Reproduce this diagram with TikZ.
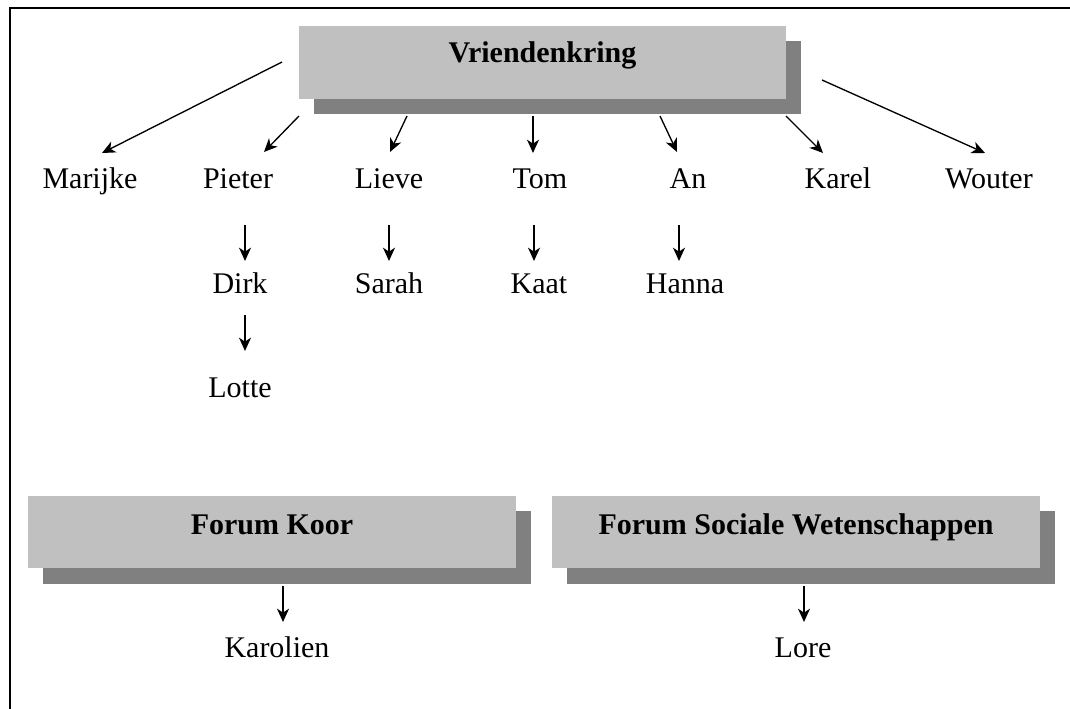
\documentclass[tikz,border=0pt]{standalone}
\usepackage{fontspec}
\setmainfont{Liberation Serif}
\usetikzlibrary{arrows.meta}
\definecolor{boxlight}{RGB}{192,192,192}
\definecolor{boxdark}{RGB}{128,128,128}
\tikzset{
  person/.style={inner sep=0pt, anchor=base, font=\fontsize{22.5pt}{27pt}\selectfont},
  boxtext/.style={inner sep=0pt, anchor=base, font=\fontsize{22.5pt}{27pt}\selectfont\bfseries},
  lightbox/.style={fill=boxlight, draw=none, inner sep=0pt, minimum width=365.6pt, minimum height=54.5pt},
  darkbox/.style={fill=boxdark, draw=none, inner sep=0pt, minimum width=365.6pt, minimum height=54.5pt},
  arr/.style={line width=1pt, -{Stealth[length=10pt,width=9pt,inset=3pt]}},
  frame/.style={line width=1.1pt}
}
\begin{document}
\begin{tikzpicture}[x=0.75pt,y=-0.75pt]
\useasboundingbox (0,0) rectangle (1070,709);
% frame
\coordinate (fa) at (1070,8);
\coordinate (fb) at (10,8);
\coordinate (fc) at (10,709);
\draw[frame] (fa) -- (fb) -- (fc);

% top box
\node[darkbox] (vkshadow) at (557.5,77.5) {};
\node[lightbox] (vk) at (542.5,62.5) {};
\node[boxtext] (vkt) at (542.5,63) {Vriendenkring};

% first row
\node[person] (marijke) at (90,189) {Marijke};
\node[person] (pieter) at (238,189) {Pieter};
\node[person] (lieve) at (389,189) {Lieve};
\node[person] (tom) at (540,189) {Tom};
\node[person] (an) at (688,189) {An};
\node[person] (karel) at (838,189) {Karel};
\node[person] (wouter) at (989,189) {Wouter};

\coordinate (sMarijke) at (282,62);  \coordinate (eMarijke) at (102,153);
\coordinate (sPieter) at (299,116);  \coordinate (ePieter) at (264,152);
\coordinate (sLieve) at (407,116);   \coordinate (eLieve) at (390,152);
\coordinate (sTom) at (533,116);     \coordinate (eTom) at (533,153);
\coordinate (sAn) at (660,116);      \coordinate (eAn) at (677,152);
\coordinate (sKarel) at (786,116);   \coordinate (eKarel) at (823,153);
\coordinate (sWouter) at (822,80);   \coordinate (eWouter) at (985,153);
\draw[arr] (sMarijke) -- (eMarijke);
\draw[arr] (sPieter) -- (ePieter);
\draw[arr] (sLieve) -- (eLieve);
\draw[arr] (sTom) -- (eTom);
\draw[arr] (sAn) -- (eAn);
\draw[arr] (sKarel) -- (eKarel);
\draw[arr] (sWouter) -- (eWouter);

% second row
\node[person] (dirk) at (240,293) {Dirk};
\node[person] (sarah) at (389,293) {Sarah};
\node[person] (kaat) at (539,293) {Kaat};
\node[person] (hanna) at (685,293) {Hanna};
\node[person] (lotte) at (240,397) {Lotte};

\coordinate (sDirk) at (245,225);  \coordinate (eDirk) at (245,261);
\coordinate (sSarah) at (389,225); \coordinate (eSarah) at (389,261);
\coordinate (sKaat) at (534,225);  \coordinate (eKaat) at (534,261);
\coordinate (sHanna) at (679,225); \coordinate (eHanna) at (679,261);
\coordinate (sLotte) at (245,315); \coordinate (eLotte) at (245,351);
\draw[arr] (sDirk) -- (eDirk);
\draw[arr] (sSarah) -- (eSarah);
\draw[arr] (sKaat) -- (eKaat);
\draw[arr] (sHanna) -- (eHanna);
\draw[arr] (sLotte) -- (eLotte);

% bottom boxes
\node[darkbox] (fkshadow) at (287,547.5) {};
\node[lightbox] (fk) at (272,532) {};
\node[boxtext] (fkt) at (272,534) {Forum Koor};
\node[darkbox] (fsshadow) at (811,547.5) {};
\node[lightbox] (fs) at (796,532) {};
\node[boxtext] (fst) at (796,534) {Forum Sociale Wetenschappen};

\node[person] (karolien) at (277,657) {Karolien};
\node[person] (lore) at (803,657) {Lore};
\coordinate (sKarolien) at (283,586); \coordinate (eKarolien) at (283,622);
\coordinate (sLore) at (804,586);     \coordinate (eLore) at (804,622);
\draw[arr] (sKarolien) -- (eKarolien);
\draw[arr] (sLore) -- (eLore);
\end{tikzpicture}
\end{document}
